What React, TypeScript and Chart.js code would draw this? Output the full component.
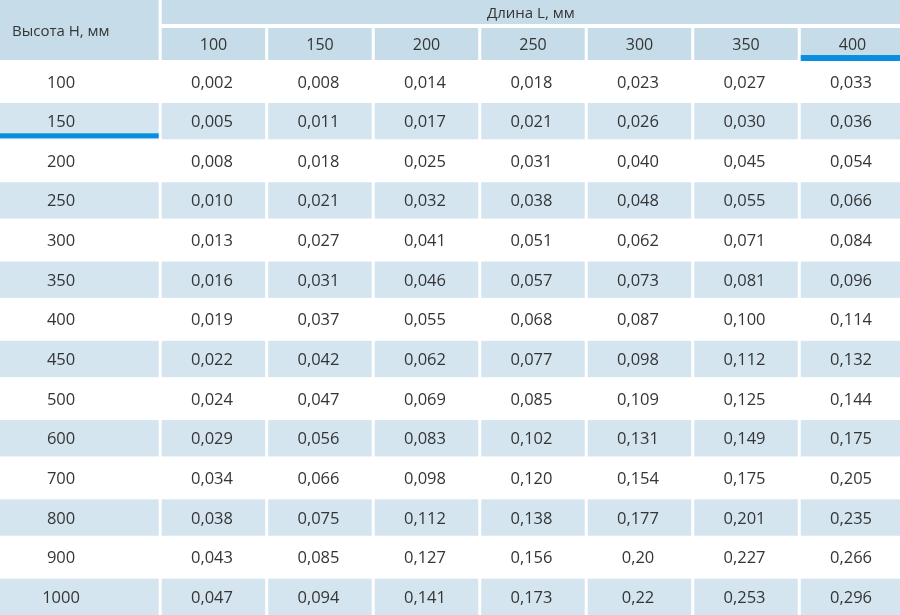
import React, { useEffect, useRef } from "react";
import { Chart, registerables } from "chart.js";

Chart.register(...registerables);

// ---- Data ----
const cornerTitle = "Высота Н, мм";
const lengthTitle = "Длина L, мм";
const heights = ["100", "150", "200", "250", "300", "350", "400", "450", "500", "600", "700", "800", "900", "1000"];
const lengths = ["100", "150", "200", "250", "300", "350", "400"];

const valuesL100 = ["0,002", "0,005", "0,008", "0,010", "0,013", "0,016", "0,019", "0,022", "0,024", "0,029", "0,034", "0,038", "0,043", "0,047"];
const valuesL150 = ["0,008", "0,011", "0,018", "0,021", "0,027", "0,031", "0,037", "0,042", "0,047", "0,056", "0,066", "0,075", "0,085", "0,094"];
const valuesL200 = ["0,014", "0,017", "0,025", "0,032", "0,041", "0,046", "0,055", "0,062", "0,069", "0,083", "0,098", "0,112", "0,127", "0,141"];
const valuesL250 = ["0,018", "0,021", "0,031", "0,038", "0,051", "0,057", "0,068", "0,077", "0,085", "0,102", "0,120", "0,138", "0,156", "0,173"];
const valuesL300 = ["0,023", "0,026", "0,040", "0,048", "0,062", "0,073", "0,087", "0,098", "0,109", "0,131", "0,154", "0,177", "0,20", "0,22"];
const valuesL350 = ["0,027", "0,030", "0,045", "0,055", "0,071", "0,081", "0,100", "0,112", "0,125", "0,149", "0,175", "0,201", "0,227", "0,253"];
const valuesL400 = ["0,033", "0,036", "0,054", "0,066", "0,084", "0,096", "0,114", "0,132", "0,144", "0,175", "0,205", "0,235", "0,266", "0,296"];

const columns = [valuesL100, valuesL150, valuesL200, valuesL250, valuesL300, valuesL350, valuesL400];

const highlightRow = "150";
const highlightCol = "400";

// ---- Styles ----
const HEADER_BG = "#c6dce9";
const STRIPE_BG = "#d4e5f0";
const ACCENT = "#0a8fe0";
const TEXT = "#353535";
const FONT = "'Open Sans', 'Noto Sans', sans-serif";

const X_MIN = -1.49;
const X_MAX = 6.96;
const Y_MIN = -1.514;
const Y_MAX = 14;
const FIRST_COL_TEXT_X = -0.917;

const tablePlugin = {
  id: "tablePlugin",
  beforeDatasetsDraw(chart: any) {
    const { ctx, chartArea, scales } = chart;
    const xs = scales.x;
    const ys = scales.y;
    const px = (v: number) => xs.getPixelForValue(v);
    const py = (v: number) => ys.getPixelForValue(v);
    const gap = 3;
    const right = chartArea.right;
    const left = chartArea.left;
    const top = chartArea.top;
    ctx.save();
    ctx.fillStyle = "#ffffff";
    ctx.fillRect(left, top, right - left, chartArea.bottom - top);

    const headBottom = py(0);
    // Corner cell
    ctx.fillStyle = HEADER_BG;
    ctx.fillRect(left, top, px(0) - left, headBottom - top);
    // "Длина" header
    ctx.fillRect(px(0) + gap, top, right - px(0) - gap, headBottom - 36 - top);
    // Sub-header cells
    lengths.forEach((_, j) => {
      const x0 = px(j) + gap;
      const x1 = Math.min(px(j + 1), right);
      ctx.fillRect(x0, headBottom - 32, x1 - x0, 32);
    });

    // Striped body rows
    heights.forEach((_, i) => {
      if (i % 2 === 1) {
        const y0 = py(i) + 3.3;
        const y1 = py(i + 1);
        ctx.fillStyle = STRIPE_BG;
        ctx.fillRect(left, y0, px(0) - left, y1 - y0);
        lengths.forEach((__, j) => {
          const x0 = px(j) + gap;
          const x1 = Math.min(px(j + 1), right);
          ctx.fillRect(x0, y0, x1 - x0, y1 - y0);
        });
      }
    });

    // Header texts
    ctx.fillStyle = TEXT;
    ctx.textBaseline = "middle";
    ctx.font = `15px ${FONT}`;
    ctx.textAlign = "left";
    ctx.fillText(cornerTitle, left + 12, (top + headBottom) / 2 + 2);
    ctx.textAlign = "center";
    ctx.fillText(lengthTitle, (px(0) + gap + right) / 2, top + 14);
    ctx.font = `16px ${FONT}`;
    lengths.forEach((l, j) => {
      ctx.fillText(l, px(j + 0.5) + 1.5, headBottom - 14.5);
    });

    // Accent underlines
    ctx.fillStyle = ACCENT;
    const cIdx = lengths.indexOf(highlightCol);
    if (cIdx >= 0) {
      const x0 = px(cIdx) + gap;
      ctx.fillRect(x0, headBottom - 5, Math.min(px(cIdx + 1), right) - x0, 6);
    }
    const rIdx = heights.indexOf(highlightRow);
    if (rIdx >= 0) {
      const yb = py(rIdx + 1);
      ctx.fillRect(left, yb - 6, px(0) - left, 5);
    }
    ctx.restore();
  },
  afterDatasetsDraw(chart: any) {
    const { ctx } = chart;
    ctx.save();
    ctx.fillStyle = TEXT;
    ctx.textAlign = "center";
    ctx.textBaseline = "middle";
    ctx.font = `16.5px ${FONT}`;
    chart.data.datasets.forEach((ds: any, di: number) => {
      const meta = chart.getDatasetMeta(di);
      meta.data.forEach((el: any, k: number) => {
        ctx.fillText(ds.labels[k], el.x, el.y + 3);
      });
    });
    ctx.restore();
  },
};

export default function App() {
  const canvasRef = useRef<HTMLCanvasElement | null>(null);

  useEffect(() => {
    if (!canvasRef.current) return;
    const datasets: any[] = [
      {
        label: cornerTitle,
        labels: heights,
        data: heights.map((_, i) => ({ x: FIRST_COL_TEXT_X, y: i + 0.5 })),
        pointRadius: 0,
      },
      ...columns.map((col, j) => ({
        label: lengths[j],
        labels: col,
        data: col.map((_, i) => ({ x: j + 0.5, y: i + 0.5 })),
        pointRadius: 0,
      })),
    ];
    const chart = new Chart(canvasRef.current, {
      type: "scatter",
      data: { datasets },
      options: {
        animation: false,
        responsive: false,
        devicePixelRatio: 1,
        layout: { padding: 0 },
        plugins: { legend: { display: false }, tooltip: { enabled: false } },
        events: [],
        scales: {
          x: { type: "linear", min: X_MIN, max: X_MAX, display: false },
          y: { type: "linear", min: Y_MIN, max: Y_MAX, reverse: true, display: false },
        },
      },
      plugins: [tablePlugin],
    } as any);
    return () => chart.destroy();
  }, []);

  return (
    <div style={{ position: "absolute", left: 0, top: 0, width: 900, height: 615, background: "#fff" }}>
      <canvas ref={canvasRef} width={900} height={615} style={{ display: "block" }} />
    </div>
  );
}
